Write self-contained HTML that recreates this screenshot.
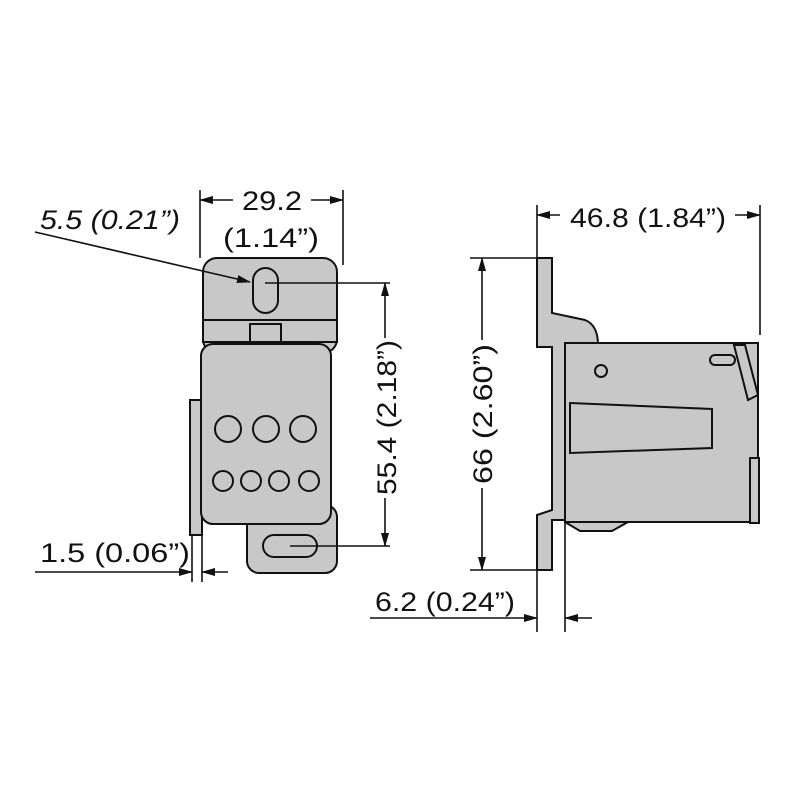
<!DOCTYPE html>
<html><head><style>body{margin:0;background:#fff}svg{display:block}text{font-family:"Liberation Sans Narrow","Liberation Sans",sans-serif;font-size:27px;fill:#111}</style></head>
<body>
<svg width="800" height="800" viewBox="0 0 800 800">
<defs><marker id="a" markerWidth="14" markerHeight="8" refX="13" refY="4" orient="auto" markerUnits="userSpaceOnUse"><path d="M0,0 L14,4 L0,8 Z" fill="#111"/></marker></defs>
<rect width="800" height="800" fill="#fff"/>
<g stroke="#111" stroke-width="2" fill="#c8c8c8">
<rect x="190" y="400" width="12" height="135"/>
<rect x="203" y="258" width="134" height="95" rx="14"/>
<rect x="203" y="320" width="134" height="22"/>
<rect x="250" y="324" width="31" height="18"/>
<rect x="247" y="505" width="90" height="68" rx="12"/>
<rect x="201" y="344" width="130" height="180" rx="12"/>
<rect x="253" y="268" width="25" height="45" rx="12.5"/>
<rect x="263" y="535" width="54" height="22" rx="11"/>
<circle cx="228" cy="429" r="13"/><circle cx="266" cy="429" r="13"/><circle cx="303" cy="429" r="13"/>
<circle cx="223" cy="481" r="10"/><circle cx="251" cy="481" r="10"/><circle cx="279" cy="481" r="10"/><circle cx="309" cy="481" r="10"/>
<path d="M537,258 H552 V313 L585,320 Q598,325 598,345 V343 H758 V522 H628 L612,531 H580 L565,522 V520 H552 L552,570 H537 V515 L552,510 V347 H537 Z"/>
<rect x="565" y="343" width="193" height="179"/>
<path d="M570,403 L712,409 V448 L570,453 Z"/>
<circle cx="601" cy="371" r="6"/>
<rect x="710" y="355" width="25" height="10" rx="5"/>
<path d="M734,345 L745,345 L758,395 L748,400 Z"/>
<rect x="750" y="458" width="9" height="65"/>
</g>
<g stroke="#111" stroke-width="1.6" fill="none">
<line x1="192" y1="535" x2="192" y2="582"/><line x1="202" y1="535" x2="202" y2="582"/>
<line x1="565" y1="522" x2="565" y2="632"/><line x1="537" y1="570" x2="537" y2="632"/>
<line x1="200" y1="190" x2="200" y2="258"/><line x1="343" y1="190" x2="343" y2="265"/>
<line x1="537" y1="205" x2="537" y2="258"/><line x1="760" y1="205" x2="760" y2="335"/>
<line x1="265" y1="283" x2="390" y2="283"/><line x1="290" y1="546" x2="390" y2="546"/>
<line x1="470" y1="258" x2="537" y2="258"/><line x1="470" y1="570" x2="537" y2="570"/>
<g marker-end="url(#a)">
<line x1="272" y1="200" x2="200" y2="200"/><line x1="272" y1="200" x2="343" y2="200"/>
<line x1="35" y1="232" x2="250" y2="282"/>
<line x1="385" y1="415" x2="385" y2="283"/><line x1="385" y1="415" x2="385" y2="546"/>
<line x1="35" y1="572" x2="192" y2="572"/><line x1="228" y1="572" x2="202" y2="572"/>
<line x1="560" y1="215" x2="537" y2="215"/><line x1="735" y1="215" x2="760" y2="215"/>
<line x1="482" y1="415" x2="482" y2="258"/><line x1="482" y1="415" x2="482" y2="570"/>
<line x1="370" y1="618" x2="537" y2="618"/><line x1="592" y1="618" x2="565" y2="618"/>
</g></g>
<rect x="233" y="186" width="78" height="26" fill="#fff"/>
<text x="242" y="210" textLength="60" lengthAdjust="spacingAndGlyphs">29.2</text>
<text x="223" y="247" textLength="96" lengthAdjust="spacingAndGlyphs">(1.14”)</text>
<text x="40" y="229" font-style="italic" textLength="140" lengthAdjust="spacingAndGlyphs">5.5 (0.21”)</text>
<text x="40" y="562" textLength="150" lengthAdjust="spacingAndGlyphs">1.5 (0.06”)</text>
<rect x="565" y="200" width="165" height="30" fill="#fff"/>
<text x="570" y="227" textLength="156" lengthAdjust="spacingAndGlyphs">46.8 (1.84”)</text>
<text x="375" y="611" textLength="140" lengthAdjust="spacingAndGlyphs">6.2 (0.24”)</text>
<rect x="373" y="338" width="28" height="160" fill="#fff"/>
<text transform="translate(396,495) rotate(-90)" textLength="155" lengthAdjust="spacingAndGlyphs">55.4 (2.18”)</text>
<rect x="470" y="340" width="28" height="148" fill="#fff"/>
<text transform="translate(492,484) rotate(-90)" textLength="140" lengthAdjust="spacingAndGlyphs">66 (2.60”)</text>
</svg>
</body></html>
